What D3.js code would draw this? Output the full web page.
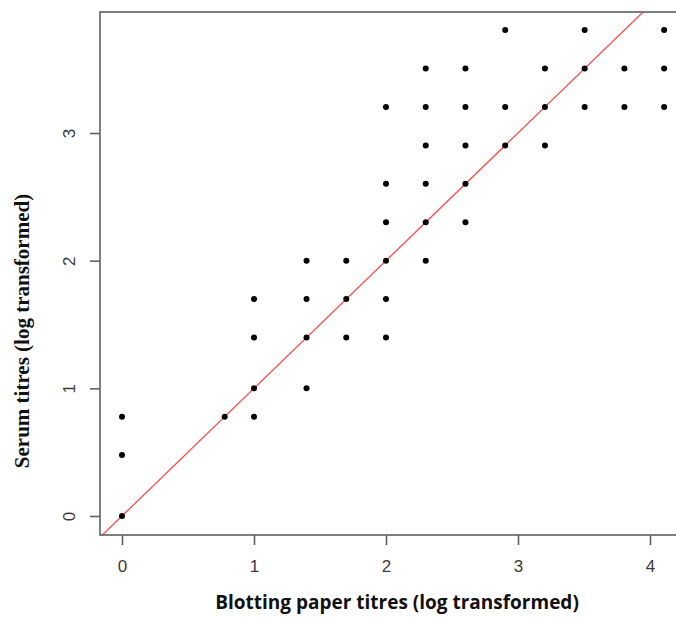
<!DOCTYPE html>
<html>
<head>
<meta charset="utf-8">
<script src="https://cdn.jsdelivr.net/npm/d3@7"></script>
<style>
  body { margin: 0; background: #fff; }
  svg { display: block; }
</style>
</head>
<body>
<div id="chart"></div>
<script>
// log10 of titres, blotting paper (x) vs serum (y)
const blotting = [0, 0, 0, 0.778, 1, 1, 1, 1,
  1.398, 1.398, 1.398, 1.398, 1.699, 1.699, 1.699,
  2, 2, 2, 2, 2, 2,
  2.301, 2.301, 2.301, 2.301, 2.301, 2.301,
  2.602, 2.602, 2.602, 2.602, 2.602,
  2.903, 2.903, 2.903, 3.204, 3.204, 3.204,
  3.505, 3.505, 3.505, 3.806, 3.806, 4.107, 4.107, 4.107];
const serum = [0, 0.477, 0.778, 0.778, 0.778, 1, 1.398, 1.699,
  1, 1.398, 1.699, 2, 1.398, 1.699, 2,
  1.398, 1.699, 2, 2.301, 2.602, 3.204,
  2, 2.301, 2.602, 2.903, 3.204, 3.505,
  2.301, 2.602, 2.903, 3.204, 3.505,
  2.903, 3.204, 3.806, 2.903, 3.204, 3.505,
  3.204, 3.505, 3.806, 3.204, 3.505, 3.204, 3.505, 3.806];
const xTicks = [0, 1, 2, 3, 4];
const yTicks = [0, 1, 2, 3];

const width = 676, height = 619;
const box = {left: 100, top: 12, right: 700, bottom: 535};

const x = d3.scaleLinear().domain([0, 4]).range([122, 650]);
const y = d3.scaleLinear().domain([0, 3]).range([516, 133]);

const svg = d3.select('#chart').append('svg')
  .attr('width', width)
  .attr('height', height);

svg.append('clipPath').attr('id', 'clip')
  .append('rect')
  .attr('x', box.left).attr('y', box.top)
  .attr('width', box.right - box.left).attr('height', box.bottom - box.top);

// identity line y = x
const lo = x.invert(box.left), hi = y.invert(box.top);
svg.append('line')
  .attr('clip-path', 'url(#clip)')
  .attr('x1', x(lo)).attr('y1', y(lo))
  .attr('x2', x(hi + 0.2)).attr('y2', y(hi + 0.2))
  .attr('stroke', '#ff4a4a')
  .attr('stroke-width', 1.3);

svg.append('g')
  .selectAll('circle')
  .data(blotting)
  .enter()
  .append('circle')
  .attr('cx', d => x(d))
  .attr('cy', (d, i) => y(serum[i]))
  .attr('r', 3)
  .attr('fill', '#000');

// frame
svg.append('rect')
  .attr('x', box.left).attr('y', box.top)
  .attr('width', box.right - box.left).attr('height', box.bottom - box.top)
  .attr('fill', 'none')
  .attr('stroke', '#606060')
  .attr('stroke-width', 1.6);

const xAxis = d3.axisBottom(x).tickValues(xTicks).tickSize(10).tickPadding(15).tickFormat(d3.format('d'));
const gx = svg.append('g')
  .attr('transform', `translate(0, ${box.bottom})`)
  .call(xAxis);
gx.select('.domain').remove();
gx.selectAll('line').attr('stroke', '#606060').attr('stroke-width', 1.6);
gx.selectAll('text')
  .attr('fill', '#3a3a3a')
  .style('font-family', 'Liberation Sans, Arial, sans-serif')
  .style('font-size', '17px');

const yAxis = d3.axisLeft(y).tickValues(yTicks).tickSize(10).tickPadding(0).tickFormat(d3.format('d'));
const gy = svg.append('g')
  .attr('transform', `translate(${box.left}, 0)`)
  .call(yAxis);
gy.select('.domain').remove();
gy.selectAll('line').attr('stroke', '#606060').attr('stroke-width', 1.6);
gy.selectAll('text')
  .attr('fill', '#3a3a3a')
  .attr('x', 0).attr('dy', null)
  .attr('transform', 'translate(-31, 0) rotate(-90)')
  .attr('text-anchor', 'middle')
  .attr('dominant-baseline', 'central')
  .style('font-family', 'Liberation Sans, Arial, sans-serif')
  .style('font-size', '17px');

svg.append('text')
  .attr('x', 397).attr('y', 609)
  .attr('text-anchor', 'middle')
  .style('font-family', 'Open Sans, sans-serif')
  .style('font-weight', 'bold')
  .style('font-size', '19px')
  .attr('fill', '#111')
  .text('Blotting paper titres (log transformed)');

svg.append('text')
  .attr('transform', 'translate(29, 331) rotate(-90)')
  .attr('text-anchor', 'middle')
  .style('font-family', 'Liberation Serif, Times New Roman, serif')
  .style('font-weight', 'bold')
  .style('font-size', '21px')
  .attr('fill', '#111')
  .text('Serum titres (log transformed)');
</script>
</body>
</html>
